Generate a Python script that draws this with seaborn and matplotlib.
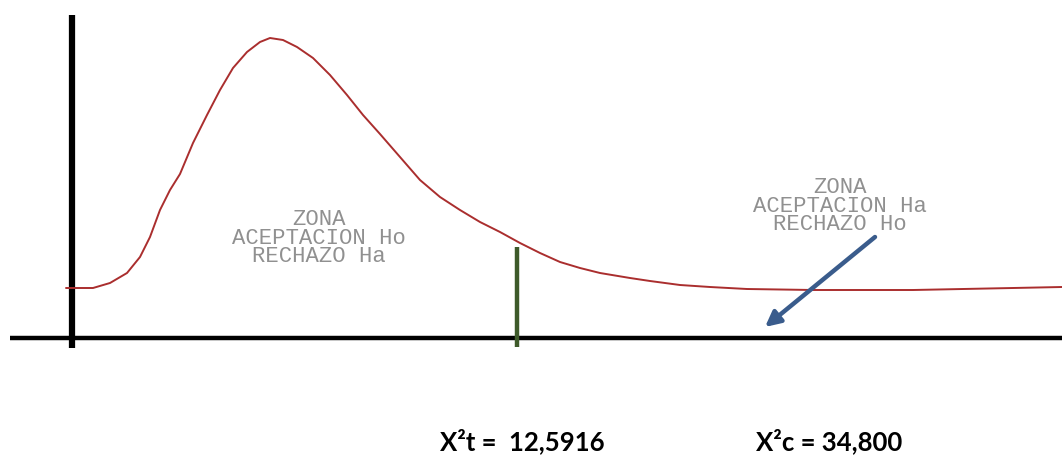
import matplotlib
matplotlib.use("Agg")
import matplotlib.pyplot as plt
import seaborn as sns

# chi-square style density sketch (diagram units, y grows downward)
curve_x = [66, 93, 110, 127, 140, 150, 160, 170, 180, 193, 207, 220, 233, 247,
           260, 270, 283, 297, 313, 330, 347, 363, 380, 400, 420, 440, 460,
           480, 500, 520, 540, 560, 580, 600, 630, 650, 680, 710, 747, 813,
           913, 1013, 1062]
curve_y = [288, 288, 283, 273, 257, 237, 210, 190, 174, 143, 115, 90, 68, 52,
           42, 38, 40, 47, 58, 75, 95, 115, 134, 157, 180, 197, 210,
           222, 232, 243, 253, 262, 268, 273, 278, 281, 285, 287, 289, 290,
           290, 288, 287]

critical_x = 517          # X²t position on the axis
critical_span = (247, 347)
arrow_from = (875, 237)
arrow_to = (765, 327)

left_zone = ["ZONA", "ACEPTACION Ho", "RECHAZO Ha"]
right_zone = ["ZONA", "ACEPTACION Ha", "RECHAZO Ho"]
stat_labels = ["X²t =  12,5916", "X²c = 34,800"]

sns.set_style("white")

fig = plt.figure(figsize=(10.62, 4.55), dpi=100)
ax = fig.add_axes([0, 0, 1, 1])
ax.set_xlim(0, 1062)
ax.set_ylim(455, 0)
ax.axis("off")

# axes of the sketch
ax.plot([72, 72], [15, 348], color="black", lw=4.5, solid_capstyle="butt")
ax.plot([10, 1062], [338, 338], color="black", lw=3.2, solid_capstyle="butt")

sns.lineplot(x=curve_x, y=curve_y, ax=ax, color="#aa2e2e", lw=1.4,
             sort=False, estimator=None)

ax.plot([critical_x, critical_x], critical_span, color="#3e5a2a", lw=3.2,
        solid_capstyle="butt")

ax.annotate("", xy=arrow_to, xytext=arrow_from,
            arrowprops=dict(arrowstyle="-|>,head_length=0.9,head_width=0.45",
                            color="#3a5c8c", lw=3.2, shrinkA=0, shrinkB=0))

mono = dict(family="Liberation Mono", fontsize=16, color="#909090",
            ha="center", va="center", linespacing=0.85)
ax.text(319, 238, "\n".join(left_zone), **mono)
ax.text(840, 206, "\n".join(right_zone), **mono)

bold = dict(family=["Lato", "DejaVu Sans"], fontsize=18.5, fontweight="bold",
            color="black", ha="left", va="baseline")
ax.text(440, 450, stat_labels[0], **bold)
ax.text(756, 450, stat_labels[1], **bold)

fig.savefig("out.png", dpi=100)
